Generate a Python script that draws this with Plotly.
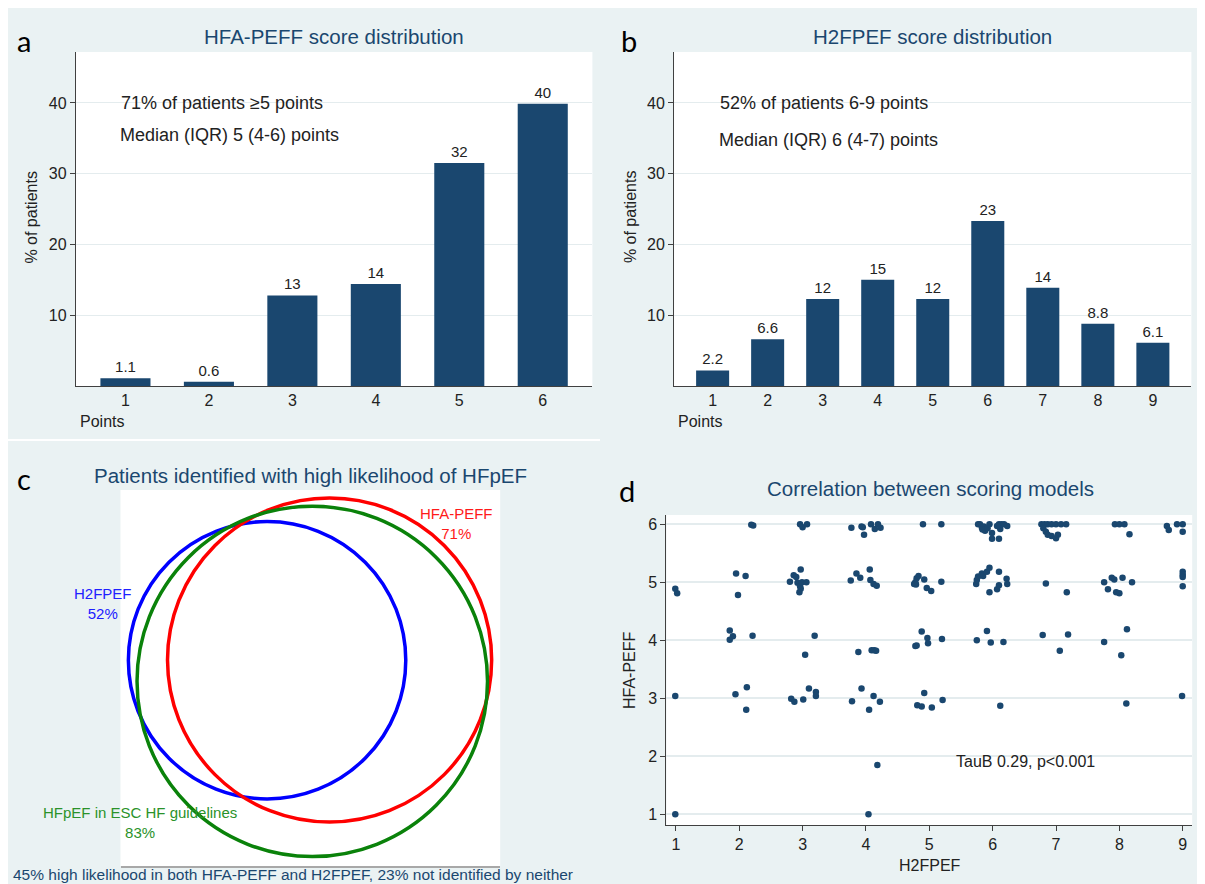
import numpy as np
import plotly.graph_objects as go

# The page body has an 8px margin, so the figure is drawn from (8, 8).
OFF = 8
W, H = 1205 - OFF, 884 - OFF
FONT = "Liberation Sans, Arial, sans-serif"
NAVY = "#1a476f"
TXT = "#222222"
AXC = "#404040"
GRID = "#e4ecee"
BG = "#eaf2f3"

# ---------------- data ----------------
# Panel a: HFA-PEFF score distribution
hfa_points = [1, 2, 3, 4, 5, 6]
hfa_pct = [1.1, 0.6, 12.8, 14.4, 31.5, 39.9]
hfa_labels = ["1.1", "0.6", "13", "14", "32", "40"]

# Panel b: H2FPEF score distribution
h2f_points = [1, 2, 3, 4, 5, 6, 7, 8, 9]
h2f_pct = [2.2, 6.6, 12.3, 15.0, 12.3, 23.3, 13.9, 8.8, 6.1]
h2f_labels = ["2.2", "6.6", "12", "15", "12", "23", "14", "8.8", "6.1"]

# Panel c: proportions identified (area-proportional circles)
venn_names = ["H2FPEF", "HFA-PEFF", "HFpEF in ESC HF guidelines"]
venn_pct = [52, 71, 83]
venn_colors = ["#0000ff", "#ff0000", "#0a820a"]

# Panel d: jittered scores (H2FPEF, HFA-PEFF)
scatter_h2fpef = [
    2.19, 2.22, 2.96, 3.00, 3.07,
    3.77, 3.93, 3.95, 3.97, 4.08, 4.14, 4.19, 4.23, 4.90, 5.19,
    5.77, 5.80, 5.83, 5.86, 5.88, 5.84, 5.92, 5.99, 5.99, 6.10, 6.10, 6.14, 6.18, 6.23, 6.12, 6.07, 5.95,
    6.77, 6.82, 6.87, 6.93, 7.00, 7.08, 7.16, 6.80, 6.84, 6.87, 6.93, 7.00, 7.03,
    7.93, 8.00, 8.08, 8.16, 8.75, 8.78, 8.91, 9.00, 9.00,
    0.99, 1.02, 1.95, 2.10, 1.98,
    2.80, 2.86, 2.90, 2.92, 2.97, 2.95, 2.96, 2.99, 3.06, 2.97,
    3.76, 3.85, 3.91, 4.06, 4.07, 4.12, 4.17,
    4.76, 4.78, 4.80, 4.83, 4.79, 4.92, 4.96, 5.03, 5.19,
    5.74, 5.75, 5.77, 5.83, 5.85, 5.91, 5.95, 5.95, 6.07, 6.10, 6.10, 6.22, 6.23,
    6.84, 7.17,
    7.76, 7.82, 7.88, 7.92, 7.95, 8.00, 8.05, 8.20,
    9.00, 9.00, 9.00, 9.00,
    1.85, 1.90, 1.85, 2.21, 3.19, 3.04,
    3.88, 4.09, 4.13, 4.16,
    4.78, 4.80, 4.88, 4.97, 4.98, 5.20,
    5.75, 5.91, 5.97, 6.17, 6.79, 7.06, 7.19, 7.76, 8.03, 8.12,
    0.99, 1.94, 2.11, 2.12, 2.82, 2.87, 3.01, 3.10, 3.21, 3.21, 3.78, 3.93, 4.05, 4.12, 4.22,
    4.81, 4.88, 4.92, 5.04, 5.21, 6.12, 8.11, 8.99,
    4.18, 0.99, 4.04,
]
scatter_hfapeff = [
    5.99, 5.98, 6.00, 5.95, 6.00,
    5.94, 5.96, 5.95, 5.82, 6.00, 5.92, 6.00, 5.94, 6.00, 6.00,
    6.00, 6.00, 5.94, 5.96, 5.89, 5.91, 5.93, 5.85, 5.75, 5.75, 6.00, 6.00, 6.00, 5.97, 5.92, 5.97, 6.00,
    6.00, 6.00, 6.00, 6.00, 6.00, 6.00, 6.00, 5.93, 5.87, 5.82, 5.80, 5.76, 5.82,
    6.00, 6.00, 6.00, 5.83, 5.97, 5.90, 6.00, 6.00, 5.87,
    4.89, 4.81, 5.15, 5.11, 4.78,
    5.01, 5.12, 5.09, 4.99, 5.22, 4.83, 4.93, 5.00, 5.00, 4.89,
    5.03, 5.15, 5.08, 5.22, 5.04, 4.97, 4.94,
    4.97, 5.00, 5.07, 5.11, 4.96, 5.05, 4.90, 4.85, 5.01,
    4.97, 5.04, 5.10, 5.15, 5.11, 5.18, 5.25, 4.83, 4.88, 4.95, 5.18, 5.06, 4.97,
    4.98, 4.83,
    5.00, 4.88, 5.08, 5.05, 4.83, 4.81, 5.08, 5.00,
    5.18, 5.13, 5.09, 4.93,
    4.17, 4.07, 4.01, 4.08, 4.08, 3.75,
    3.80, 3.83, 3.83, 3.82,
    3.90, 3.91, 4.15, 4.04, 3.95, 4.02,
    4.00, 4.16, 3.96, 3.97, 4.09, 3.82, 4.10, 3.97, 3.74, 4.19,
    3.04, 3.07, 2.80, 3.19, 2.99, 2.94, 2.98, 3.17, 3.11, 3.04, 2.95, 3.17, 2.80, 3.04, 2.94,
    2.88, 2.86, 3.09, 2.84, 2.97, 2.87, 2.91, 3.04,
    1.85, 1.00, 1.00,
]


# ---------------- helpers (window pixel -> paper) ----------------
def px(x):
    return (x - OFF) / W


def py(y):
    return 1 - (y - OFF) / H


fig = go.Figure()

# Panel a bars
fig.add_trace(go.Bar(
    x=hfa_points, y=hfa_pct, text=hfa_labels, texttemplate="%{text}",
    textposition="outside", cliponaxis=False, width=0.6,
    marker=dict(color=NAVY, line=dict(width=0)),
    textfont=dict(size=15, color=TXT, family=FONT),
    xaxis="x", yaxis="y", showlegend=False, hoverinfo="skip"))

# Panel b bars
fig.add_trace(go.Bar(
    x=h2f_points, y=h2f_pct, text=h2f_labels, texttemplate="%{text}",
    textposition="outside", cliponaxis=False, width=0.6,
    marker=dict(color=NAVY, line=dict(width=0)),
    textfont=dict(size=15, color=TXT, family=FONT),
    xaxis="x2", yaxis="y2", showlegend=False, hoverinfo="skip"))

# Panel d scatter
fig.add_trace(go.Scatter(
    x=scatter_h2fpef, y=scatter_hfapeff, mode="markers",
    marker=dict(color=NAVY, size=6.5, line=dict(width=0)),
    xaxis="x4", yaxis="y4", showlegend=False, hoverinfo="skip", cliponaxis=False))

# Panel c: invisible trace so the axes exist
fig.add_trace(go.Scatter(x=[0], y=[0], mode="markers", marker=dict(opacity=0),
                         xaxis="x3", yaxis="y3", showlegend=False, hoverinfo="skip"))

# ---------------- axes ----------------
common_tick = dict(tickfont=dict(size=16, color=TXT, family=FONT))

fig.update_layout(
    xaxis=dict(domain=[px(75.8), px(592.4)], range=[0.405, 6.595], anchor="y",
               tickvals=hfa_points, ticks="", showline=True, linecolor=AXC, linewidth=1,
               showgrid=False, zeroline=False, **common_tick),
    yaxis=dict(domain=[py(386), py(52)], range=[0, 47.2], anchor="x",
               tickvals=[10, 20, 30, 40], ticks="outside", ticklen=5, tickcolor=AXC,
               showline=True, linecolor=AXC, linewidth=1, showgrid=True, gridcolor=GRID,
               gridwidth=1, zeroline=False, **common_tick),
    xaxis2=dict(domain=[px(674.1), px(1191.4)], range=[0.3, 9.7], anchor="y2",
                tickvals=h2f_points, ticks="", showline=True, linecolor=AXC, linewidth=1,
                showgrid=False, zeroline=False, **common_tick),
    yaxis2=dict(domain=[py(386), py(52)], range=[0, 47.2], anchor="x2",
                tickvals=[10, 20, 30, 40], ticks="outside", ticklen=5, tickcolor=AXC,
                showline=True, linecolor=AXC, linewidth=1, showgrid=True, gridcolor=GRID,
                gridwidth=1, zeroline=False, **common_tick),
    xaxis3=dict(domain=[px(120.5), px(500.2)], range=[0, 19.74], anchor="y3",
                showticklabels=False, ticks="", showgrid=False, zeroline=False,
                showline=True, linecolor="#a8a8a8", linewidth=1.5),
    yaxis3=dict(domain=[py(866), py(490)], range=[0, 19.55], anchor="x3",
                showticklabels=False, ticks="", showgrid=False, zeroline=False,
                showline=False),
    xaxis4=dict(domain=[px(666.4), px(1192.2)], range=[0.85, 9.15], anchor="y4",
                tickvals=list(range(1, 10)), ticks="outside", ticklen=5, tickcolor=AXC,
                showline=True, linecolor=AXC, linewidth=1, showgrid=False, zeroline=False,
                **common_tick),
    yaxis4=dict(domain=[py(825), py(515)], range=[0.815, 6.16], anchor="x4",
                tickvals=list(range(1, 7)), ticks="outside", ticklen=5, tickcolor=AXC,
                showline=True, linecolor=AXC, linewidth=1, showgrid=True, gridcolor=GRID,
                gridwidth=1.5, zeroline=False, **common_tick),
)

# ---------------- panel c circles ----------------
venn_scale = 1.0  # axis units per sqrt(%): radius = sqrt(pct)
venn_centers = [(7.62, 10.70), (10.87, 10.71), (9.97, 9.60)]  # layout positions (axis units)
shapes = []
for (cx, cy), pct, col in zip(venn_centers, venn_pct, venn_colors):
    r = np.sqrt(pct) * venn_scale
    shapes.append(dict(type="circle", xref="x3", yref="y3", x0=cx - r, x1=cx + r,
                       y0=cy - r, y1=cy + r, line=dict(color=col, width=3.5),
                       fillcolor="rgba(0,0,0,0)", layer="above"))

# thin white separator below the top-left panel
shapes.append(dict(type="rect", xref="paper", yref="paper", x0=px(OFF), x1=px(600),
                   y0=py(441), y1=py(439), fillcolor="white", line=dict(width=0),
                   layer="below"))

fig.update_layout(shapes=shapes)

# ---------------- annotations ----------------
ann = []


def A(text, x, y, size, color=TXT, xanchor="center", yanchor="middle", angle=0, family=FONT):
    ann.append(dict(text=text, x=px(x), y=py(y), xref="paper", yref="paper",
                    xanchor=xanchor, yanchor=yanchor, showarrow=False, textangle=angle,
                    font=dict(size=size, color=color, family=family)))


LETTER_FONT = "Lato, Open Sans, sans-serif"
A("a", 24, 40, 29, "#000000", family=LETTER_FONT)
A("b", 629, 40, 29, "#000000", family=LETTER_FONT)
A("c", 24, 478, 29, "#000000", family=LETTER_FONT)
A("d", 627, 490, 29, "#000000", family=LETTER_FONT)

A("HFA-PEFF score distribution", 333.9, 37, 20.5, NAVY)
A("H2FPEF score distribution", 932.8, 37, 20.5, NAVY)
A("Patients identified with high likelihood of HFpEF", 310.4, 475, 20.5, NAVY)
A("Correlation between scoring models", 930, 488, 20.5, NAVY)

A("71% of patients ≥5 points", 118.6, 103, 18, xanchor="left")
A("Median (IQR) 5 (4-6) points", 117.5, 135, 18, xanchor="left")
A("52% of patients 6-9 points", 717.7, 103, 18, xanchor="left")
A("Median (IQR) 6 (4-7) points", 716.9, 140, 18, xanchor="left")

A("Points", 77.7, 421, 16, xanchor="left")
A("Points", 676.4, 421, 16, xanchor="left")
A("% of patients", 30.6, 217, 16, angle=-90)
A("% of patients", 630.1, 217, 16, angle=-90)

A("HFA-PEFF", 629, 670, 16, angle=-90)
A("H2FPEF", 930, 865, 16)
A("TauB 0.29, p<0.001", 954, 761, 16, xanchor="left")

# venn labels (name on first line, percentage below)
A(f"{venn_names[1]}<br>{venn_pct[1]}%", 456, 523.5, 15, "#ff1a1a")
A(f"{venn_names[0]}<br>{venn_pct[0]}%", 103, 603, 15, "#2020ff")
A(f"{venn_names[2]}<br>{venn_pct[2]}%", 140, 822, 15, "#2a922a")

ann.append(dict(text="45% high likelihood in both HFA-PEFF and H2FPEF, 23% not identified by neither",
                x=px(11.5), y=0, xref="paper", yref="paper", xanchor="left", yanchor="bottom",
                showarrow=False, borderpad=0,
                font=dict(size=15.5, color=NAVY, family=FONT)))

fig.update_layout(annotations=ann)

fig.update_layout(
    width=W, height=H, margin=dict(l=0, r=0, t=0, b=0),
    paper_bgcolor=BG, plot_bgcolor="white",
    font=dict(family=FONT, color=TXT), bargap=0.4,
)

fig.write_html("out.html")
